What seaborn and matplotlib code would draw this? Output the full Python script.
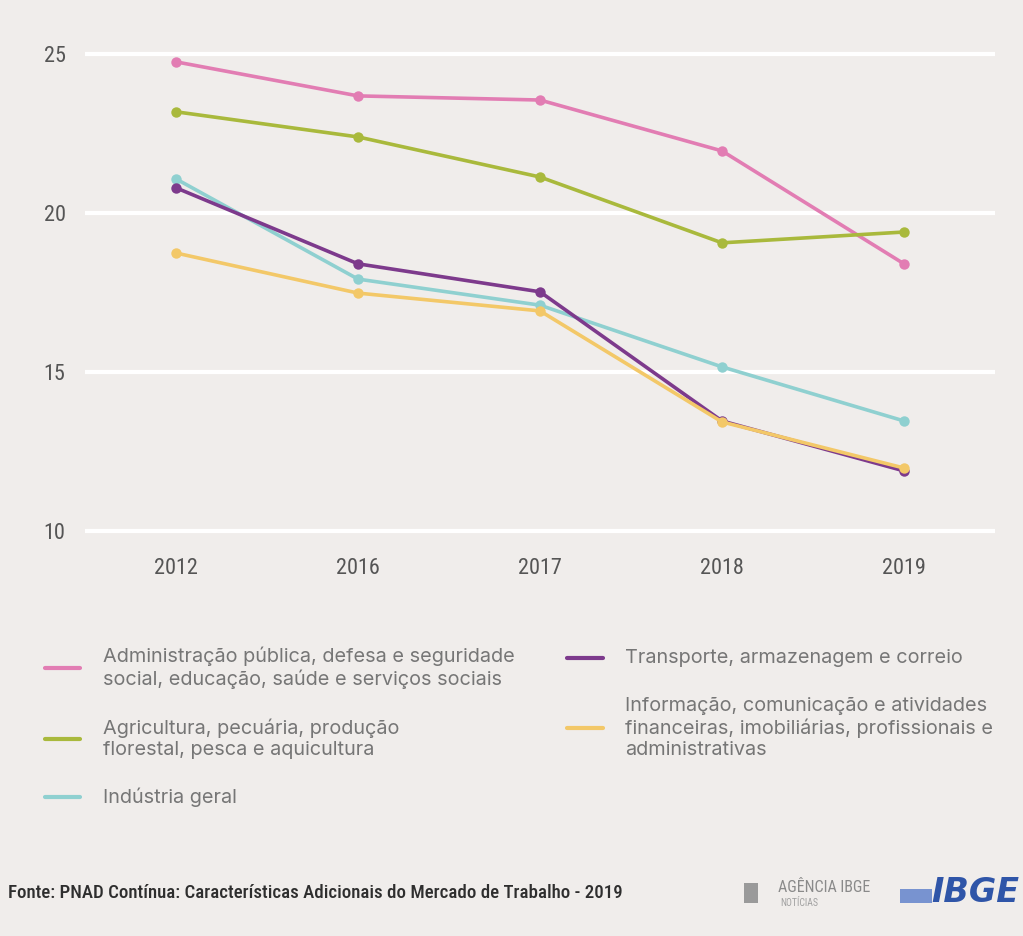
import matplotlib
matplotlib.use("Agg")
import matplotlib.pyplot as plt
import seaborn as sns
import pandas as pd
from matplotlib import font_manager
from matplotlib.lines import Line2D
from matplotlib.patches import Rectangle

# Taxa de informalidade por grupamento de atividade (%)
anos = ["2012", "2016", "2017", "2018", "2019"]
administracao = [24.75, 23.68, 23.55, 21.95, 18.40]
agricultura = [23.18, 22.39, 21.13, 19.06, 19.40]
industria = [21.07, 17.92, 17.10, 15.16, 13.46]
transporte = [20.79, 18.40, 17.52, 13.46, 11.89]
informacao = [18.74, 17.48, 16.92, 13.43, 11.98]

series_nomes = [
    "Administração pública, defesa e seguridade\nsocial, educação, saúde e serviços sociais",
    "Agricultura, pecuária, produção\nflorestal, pesca e aquicultura",
    "Indústria geral",
    "Transporte, armazenagem e correio",
    "Informação, comunicação e atividades\nfinanceiras, imobiliárias, profissionais e\nadministrativas",
]
series_valores = [administracao, agricultura, industria, transporte, informacao]
cores = ["#E27DB3", "#A9B93C", "#8FD0D0", "#7D3A8C", "#F3C868"]
y_ticks = [10, 15, 20, 25]

fonte_texto = "Fonte: PNAD Contínua: Características Adicionais do Mercado de Trabalho - 2019"


def escolher_fonte(*nomes):
    disponiveis = {f.name for f in font_manager.fontManager.ttflist}
    for n in nomes:
        if n in disponiveis:
            return n
    return "DejaVu Sans"


fonte_estreita = escolher_fonte("Roboto Condensed", "Liberation Sans Narrow", "DejaVu Sans")
fonte_legenda = escolher_fonte("Inter", "Roboto", "Lato")
stretch = "condensed" if fonte_estreita == "DejaVu Sans" else "normal"

df = pd.DataFrame(
    [(ano, nome, v) for nome, vals in zip(series_nomes, series_valores) for ano, v in zip(anos, vals)],
    columns=["ano", "setor", "valor"],
)

fundo = "#F0EDEB"
sns.set_theme(style="white")
plt.rcParams["font.family"] = [fonte_legenda, "DejaVu Sans"]

fig = plt.figure(figsize=(10.23, 9.36), dpi=100, facecolor=fundo)
ax = fig.add_axes([0.0831, 0.4259, 0.8895, 0.5233])
ax.set_facecolor(fundo)

sns.lineplot(
    data=df, x="ano", y="valor", hue="setor", hue_order=series_nomes,
    palette=cores, marker="o", markersize=7.5, markeredgewidth=0,
    linewidth=2.6, legend=False, ax=ax, sort=False,
)

ax.set_xlim(-0.5, 4.5)
ax.set_ylim(9.8, 25.2)
ax.set_yticks(y_ticks)
ax.set_yticklabels([str(t) for t in y_ticks])
for y in y_ticks:
    ax.axhline(y, color="white", linewidth=3, zorder=0)
ax.grid(False)
for s in ax.spines.values():
    s.set_visible(False)
ax.set_xlabel("")
ax.set_ylabel("")
ax.tick_params(axis="both", length=0, labelcolor="#555555")
ax.tick_params(axis="y", pad=14)
ax.tick_params(axis="x", pad=15)
for lbl in ax.get_xticklabels() + ax.get_yticklabels():
    lbl.set_fontfamily(fonte_estreita)
    lbl.set_fontsize(16)
    lbl.set_fontstretch(stretch)

# Legenda em duas colunas
W, H = 1023.0, 936.0
itens = [
    (0, 45, 80, 103, 668),
    (1, 45, 80, 103, 739),
    (2, 45, 80, 103, 797),
    (3, 567, 603, 625, 658),
    (4, 567, 603, 625, 728),
]
for idx, x0, x1, xt, yc in itens:
    fig.add_artist(Line2D([x0 / W, x1 / W], [1 - yc / H, 1 - yc / H],
                          color=cores[idx], linewidth=3, transform=fig.transFigure))
    fig.text(xt / W, 1 - yc / H, series_nomes[idx], ha="left", va="center",
             fontsize=14.3, color="#767676", linespacing=1.2)

# Rodapé
fig.text(8 / W, 1 - 893 / H, fonte_texto, ha="left", va="center",
         fontsize=13.6, color="#2e2e2e", family=fonte_estreita,
         fontstretch=stretch, fontweight="medium")

# Marcas institucionais
fig.add_artist(Rectangle((744 / W, 1 - 903 / H), 14 / W, 20 / H,
                         transform=fig.transFigure, color="#9a9a9a", linewidth=0))
fig.text(778 / W, 1 - 888 / H, "AGÊNCIA IBGE", ha="left", va="center",
         fontsize=11.5, color="#8a8a8a", family=fonte_estreita, fontstretch=stretch)
fig.text(780 / W, 1 - 903 / H, "NOTÍCIAS", ha="left", va="center",
         fontsize=7, color="#a0a0a0", family=fonte_estreita, fontstretch=stretch)
fig.add_artist(Rectangle((900 / W, 1 - 903 / H), 32 / W, 14 / H,
                         transform=fig.transFigure, color="#7893d0", linewidth=0))
fig.text(1019 / W, 1 - 893 / H, "IBGE", ha="right", va="center",
         fontsize=24, color="#2f55a8", fontweight="bold", fontstyle="italic",
         family="DejaVu Sans")

fig.savefig("out.png", dpi=100, facecolor=fundo)
